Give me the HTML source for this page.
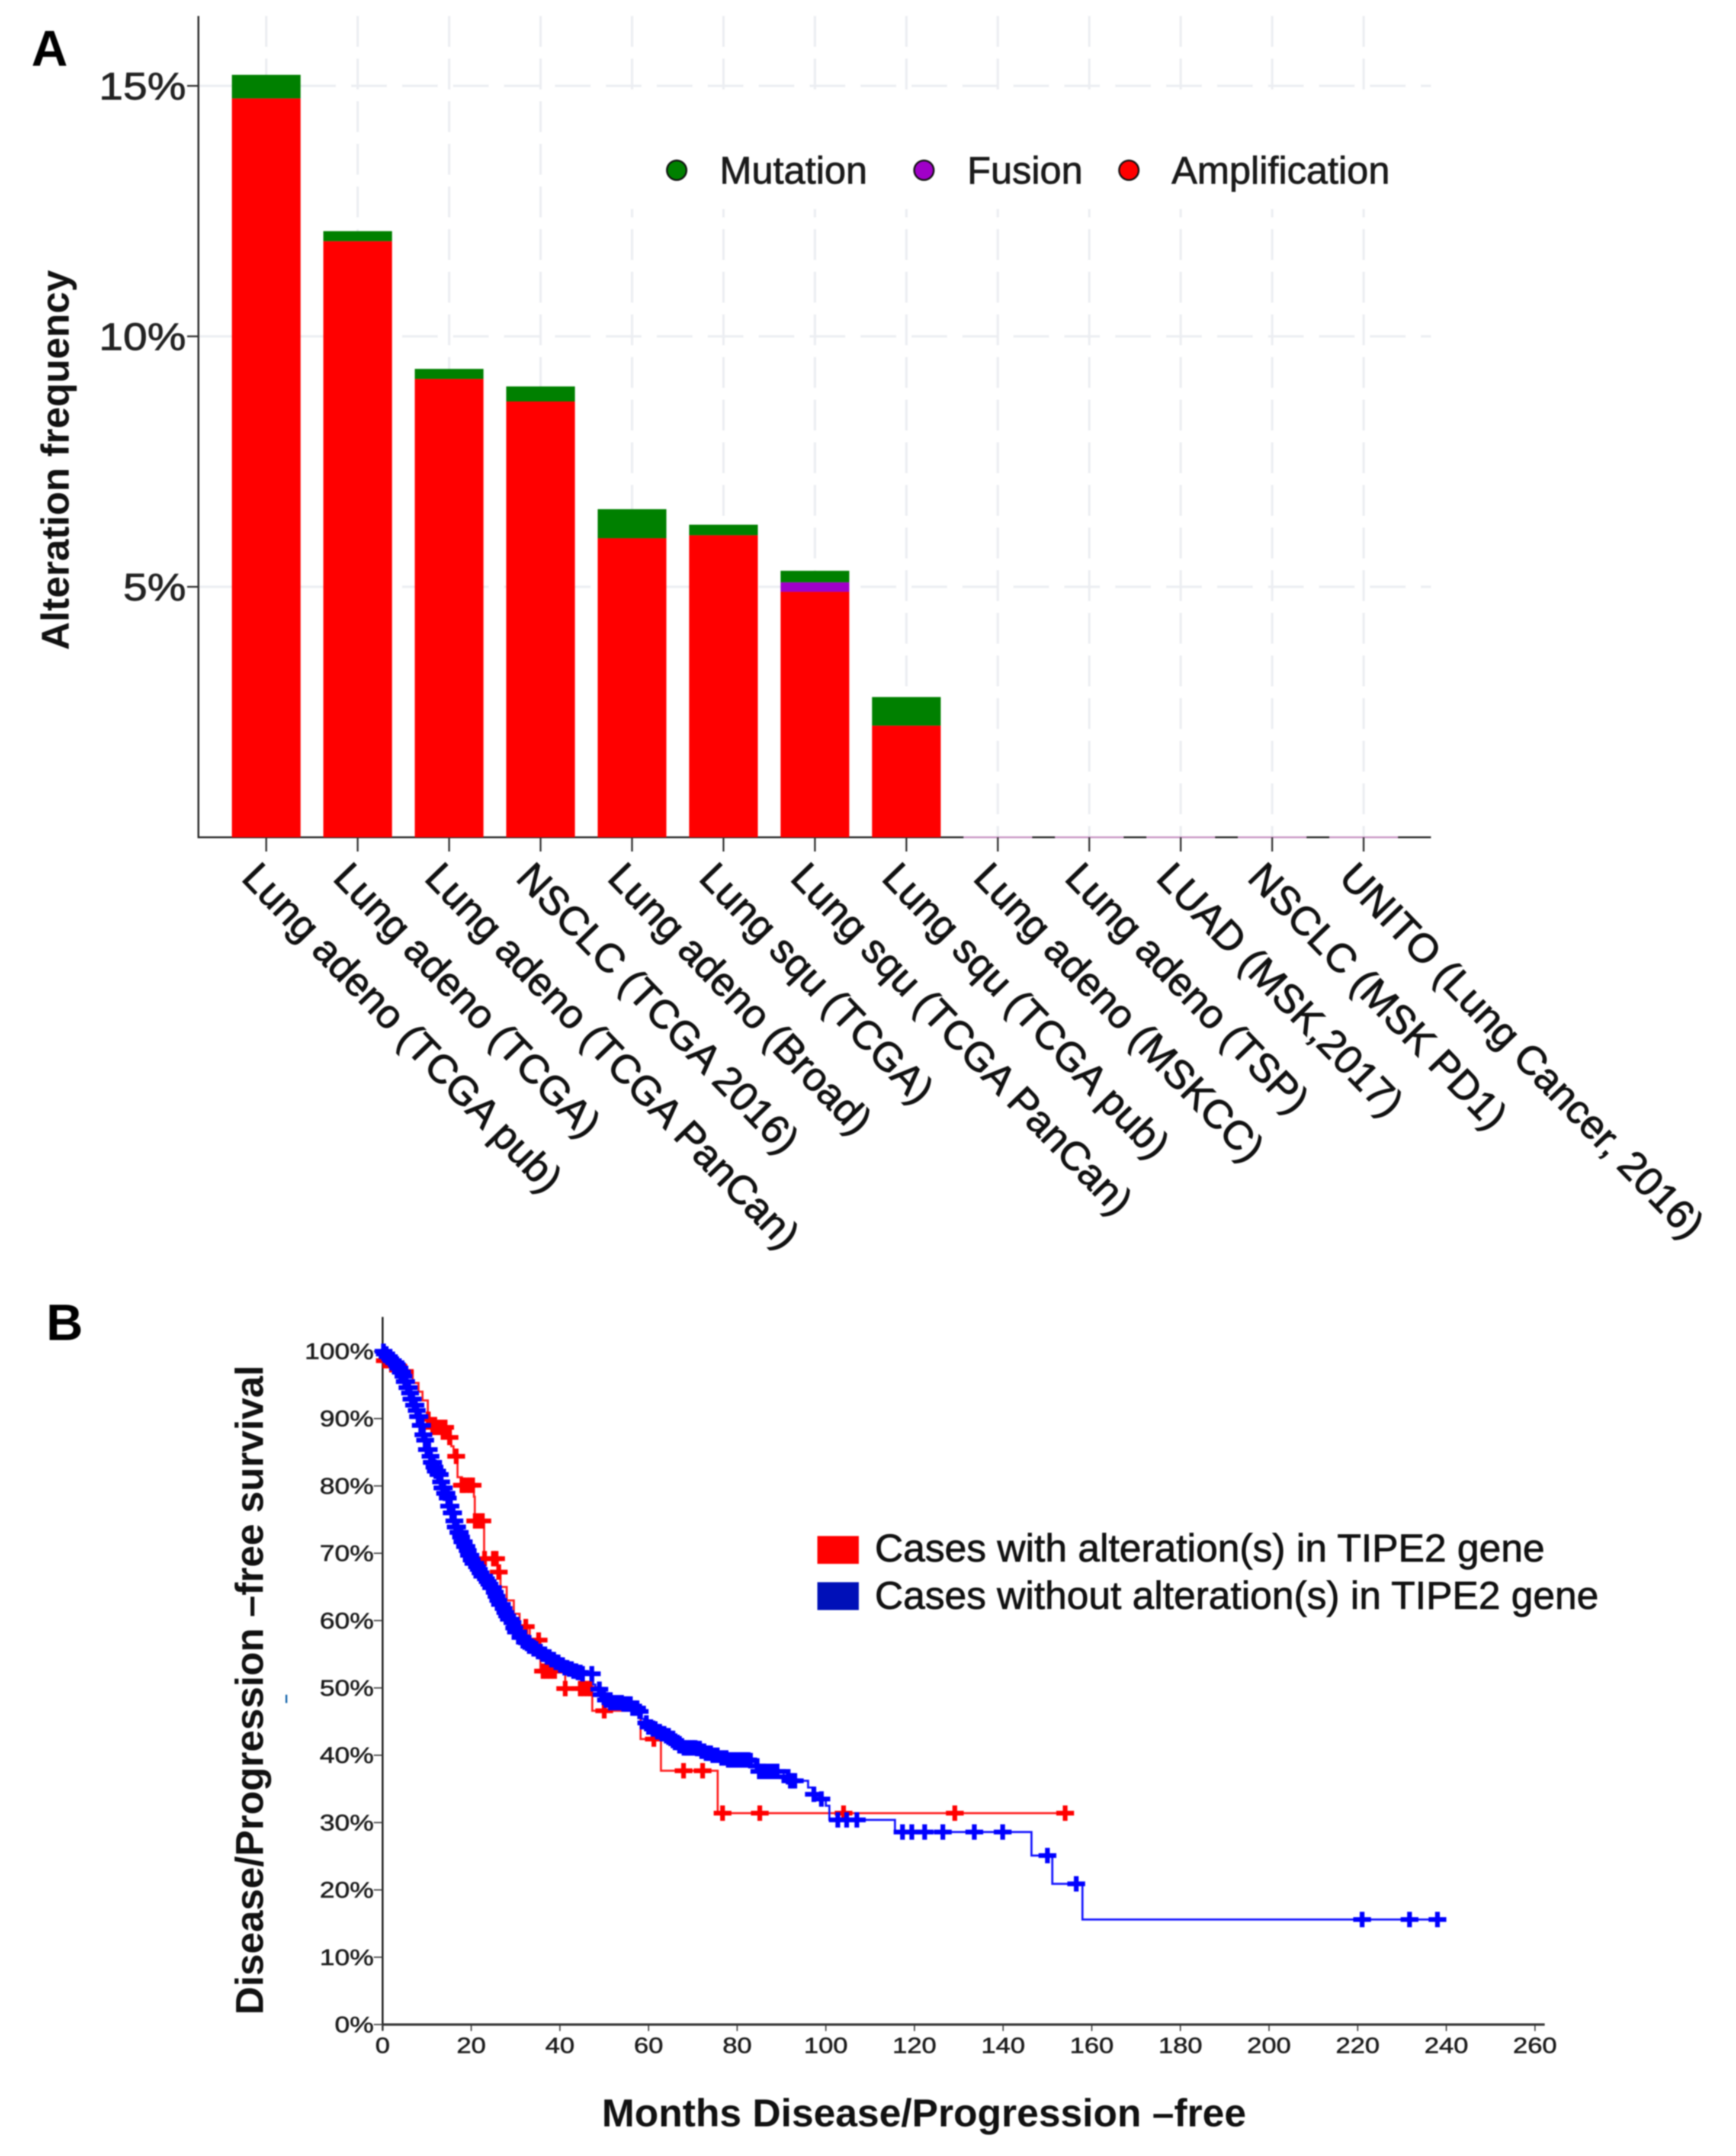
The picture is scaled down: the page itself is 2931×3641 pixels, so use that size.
<!DOCTYPE html>
<html lang="en">
<head>
<meta charset="utf-8">
<title>TIPE2 alteration frequency and survival</title>
<style>
html,body{margin:0;padding:0;background:#fff;}
svg{display:block;filter:blur(1px);}
text{font-family:"Liberation Sans",Arial,sans-serif;}
.thick{stroke:#111;stroke-width:1px;}
</style>
</head>
<body>
<svg id="fig" xmlns="http://www.w3.org/2000/svg" width="2931" height="3641" viewBox="0 0 2931 3641">
  <rect width="2931" height="3641" fill="#ffffff"/>
  <text x="53" y="111" font-size="85" font-weight="700" fill="#000">A</text>
  <text x="78" y="2263" font-size="86" font-weight="700" fill="#000">B</text>
  <g id="panelA"></g>
  <text transform="translate(116,777) rotate(-90)" text-anchor="middle" font-size="66" font-weight="700" fill="#111">Alteration frequency</text>
  <g id="panelB"></g>
  <text transform="translate(444,2854) rotate(-90)" text-anchor="middle" font-size="66" font-weight="700" fill="#111">Disease/Progression –free survival</text>
  <text x="1016" y="3591" font-size="66" font-weight="700" fill="#111" textLength="1088" lengthAdjust="spacingAndGlyphs">Months Disease/Progression –free</text>
  <rect x="482" y="2862" width="3" height="14" fill="#0b5fa8"/>
  <rect x="1380" y="2594" width="70" height="47" fill="#ff0000"/>
  <text class="thick" x="1477" y="2637" font-size="66" fill="#111" textLength="1131" lengthAdjust="spacingAndGlyphs">Cases with alteration(s) in TIPE2 gene</text>
  <rect x="1380" y="2672" width="70" height="47" fill="#0010b8"/>
  <text class="thick" x="1477" y="2717" font-size="66" fill="#111" textLength="1222" lengthAdjust="spacingAndGlyphs">Cases without alteration(s) in TIPE2 gene</text>
</svg>
<script>
// ---------- Panel A data ----------
const studies = ["Lung adeno (TCGA pub)","Lung adeno (TCGA)","Lung adeno (TCGA PanCan)","NSCLC (TCGA 2016)","Lung adeno (Broad)","Lung squ (TCGA)","Lung squ (TCGA PanCan)","Lung squ (TCGA pub)","Lung adeno (MSKCC)","Lung adeno (TSP)","LUAD (MSK,2017)","NSCLC (MSK PD1)","UNITO (Lung Cancer, 2016)"];
const amplification = [14.75,11.9,9.15,8.7,5.97,6.03,4.9,2.23,0,0,0,0,0];
const fusion = [0,0,0,0,0,0,0.19,0,0,0,0,0,0];
const mutation = [0.47,0.2,0.2,0.3,0.58,0.21,0.23,0.57,0,0,0,0,0];
const freqTicks = [5,10,15];
const freqTickLabels = ["5%","10%","15%"];
const legendNames = ["Mutation","Fusion","Amplification"];

// ---------- Panel B data ----------
const survTicks = [0,10,20,30,40,50,60,70,80,90,100];
const monthTicks = [0,20,40,60,80,100,120,140,160,180,200,220,240,260];
const blueMonths = [0,.5,1,1.5,2,2.5,3,3.5,4,4.5,5,5.5,6,6.5,7,7.5,8,8.5,9,9.5,10,10.5,11,11.5,12,12.5,13,13.5,14,14.5,15,15.5,16,16.5,17,17.5,18,18.5,19,19.5,20,20.5,21,21.5,22,22.5,23,23.5,24,24.5,25,25.5,26,26.5,27,27.5,28,28.5,29,29.5,30,31,32,33,34,35,36,37,38,39,40,41,42,43,44,45,47.4,47.5,48,49,50,51,54,56,58,58.5,59,60,61,62,63,64,65,66,67,68,71,72,73,74.5,76,78,83,84,85,89.5,90.5,92,96,97,97.5,100,100.8,115.6,146.4,151.1,157.9,238];
const blueSurv = [100,99.6,99.2,98.9,98.6,98.3,98,97.5,96.9,96.3,95.5,94.6,93.8,92.9,92,91.2,90.3,89,87.6,86.8,85.4,84.4,83.5,82.8,82.2,81.7,80.6,79.7,78.9,78.2,77,76,74.8,73.9,73.1,72.4,71.7,71,70.4,69.7,69,68.5,68,67.6,67.1,66.6,66.2,65.8,65.4,64.9,64.2,63.6,63,62.4,61.8,61.2,60.7,60.2,59.7,58.9,58.3,57.5,56.8,56.2,55.8,55.4,55,54.6,54.2,53.8,53.4,53,52.8,52.5,52.3,52.1,51.8,50.5,49.8,49,48.2,47.8,47.6,47,46.5,45.4,44.8,44.2,43.9,43.5,43.2,42.9,42.5,41.9,41.4,41.1,41,40.6,40.3,40,39.6,39.3,39.2,38.4,37.6,37.5,36.8,36.2,35.2,34.2,33.5,32.5,30.4,28.6,25.1,20.9,15.6,15.6];
const blueCensored = [.2,.5,.8,1.1,1.4,1.7,2,2.3,2.6,2.9,3.2,3.5,3.8,4.1,4.4,4.7,5,5.3,5.6,5.9,6.2,6.5,6.8,7.1,7.4,7.7,8,8.3,8.6,8.9,9.2,9.6,10,10.4,10.8,11.1,11.4,11.7,12,12.3,12.6,12.9,13.2,13.5,13.8,14.1,14.4,14.7,15,15.3,15.6,15.9,16.2,16.5,16.8,17.1,17.4,17.7,18,18.3,18.6,18.9,19.2,19.5,19.8,20.1,20.5,20.9,21.3,21.7,22.1,22.5,22.9,23.3,23.7,24.1,24.5,24.9,25.3,25.7,26.1,26.5,26.9,27.3,27.7,28.1,28.5,28.9,29.3,29.7,30.1,30.6,31.1,31.6,32.1,32.6,33.1,33.6,34.1,34.6,35.1,35.6,36.1,36.6,37.1,37.6,38.1,38.6,39.1,39.6,40.1,40.6,41.1,41.6,42.1,42.6,43.1,43.6,44.1,44.6,45.1,47.2,48.9,49.4,49.9,50.4,50.9,51.4,51.9,52.4,52.9,53.4,53.9,54.4,54.9,55.4,55.9,56.4,56.9,57.4,58,59.5,60,60.5,61,61.5,62,62.5,63,63.5,64,64.5,65,65.5,66,66.5,67,67.5,68,68.5,69,69.5,70,70.5,71,71.5,72,72.5,73,73.5,74,74.5,75.5,76.5,77.5,78,78.5,79,79.5,80,80.5,81,81.5,82,82.5,83,84.5,85,85.5,86,87,88,88.5,89,91.5,92,92.5,93,97.3,99,102.7,104.7,107,117.3,119.4,122.3,126.4,133.5,139.9,150,156.5,221,231.7,238];
const redMonths = [0,1.5,5,6.8,8.1,9,10.2,11,15,15.5,16,16.9,17.9,20.6,20.8,22.9,26,26.6,28,29.6,30.9,33.2,35.6,41.2,47.3,58.2,62.8,75.6,154];
const redSurv = [98.6,98,97,95.3,94,92.7,89.9,88.7,87.2,85.9,84.4,81.3,80.1,78.4,74.8,69.2,67.2,65,63,61,59.1,57.1,52.5,49.9,46.6,42.4,37.7,31.4,31.4];
const redCensored = [.5,1.2,2,5,10.3,11.3,11.8,12.3,13.1,13.6,14.1,15.1,16.6,17.9,18.2,19,19.7,20.3,20.9,21,21.8,22.5,23,25,25.6,26.2,32.3,35.2,36.2,37,37.9,38.8,41.2,44.6,45.4,46.2,46.9,50,61.2,67.9,72.2,76.7,85.1,104,129.1,154];

// ---------- helpers ----------
const NS = "http://www.w3.org/2000/svg";
function make(parent, tag, attrs, txt) {
  const el = document.createElementNS(NS, tag);
  for (const k in attrs) el.setAttribute(k, attrs[k]);
  if (txt !== undefined) el.textContent = txt;
  parent.appendChild(el);
  return el;
}
const A = document.getElementById("panelA");
const B = document.getElementById("panelB");

// ---------- Panel A scales ----------
const aLeft = 335, aRight = 2416, aTop = 27, aBase = 1414;
function freqY(v) { return aBase - v * 84.6; }
function bandX(i) { return 449.5 + i * 154.4; }
const barW = 116;

// grid
freqTicks.forEach(function (t) {
  const el = make(A, "line", {x1: aLeft, x2: aRight, y1: freqY(t), y2: freqY(t), stroke: "#eceef2", "stroke-width": 4, "stroke-dasharray": "60 26"});
  
  
});
studies.forEach(function (s, i) {
  const el = make(A, "line", {x1: bandX(i), x2: bandX(i), y1: aTop, y2: aBase, stroke: "#eceef2", "stroke-width": 4, "stroke-dasharray": "52 20"});
  
  
});
const legBg = make(A, "rect", {x: 1040, y: 155, width: 1376, height: 198, fill: "#fff"});



// axes
const aAxisY = make(A, "line", {x1: aLeft, x2: aLeft, y1: aTop, y2: aBase + 1.5, stroke: "#222", "stroke-width": 3});


const aAxisX = make(A, "line", {x1: aLeft, x2: aRight, y1: aBase, y2: aBase, stroke: "#222", "stroke-width": 3});



// bars
studies.forEach(function (s, i) {
  const x = bandX(i) - barW / 2;
  const total = amplification[i] + fusion[i] + mutation[i];
  if (total === 0) {
    const z = make(A, "rect", {x: x, y: aBase - 1.5, width: barW, height: 3, fill: "#c896c4"});
    
    
    return;
  }
  const r = make(A, "rect", {x: x, y: freqY(amplification[i]), width: barW, height: aBase - freqY(amplification[i]), fill: "#ff0000"});
  
  
  if (fusion[i] > 0) {
    const p = make(A, "rect", {x: x, y: freqY(amplification[i] + fusion[i]), width: barW, height: fusion[i] * 84.6, fill: "#a000c8"});
    
    
  }
  const g = make(A, "rect", {x: x, y: freqY(total), width: barW, height: mutation[i] * 84.6, fill: "#008000"});
  
  
});

// y ticks
freqTicks.forEach(function (t, i) {
  const tk = make(A, "line", {x1: 316, x2: aLeft, y1: freqY(t), y2: freqY(t), stroke: "#333", "stroke-width": 3});
  
  
  const lb = make(A, "text", {transform: "translate(314," + (freqY(t) + 23) + ") scale(1.13,1)", "text-anchor": "end", "font-size": 65, fill: "#222", stroke: "#222", "stroke-width": 1}, freqTickLabels[i]);
  
  
});

// x ticks and labels
studies.forEach(function (s, i) {
  const tk = make(A, "line", {x1: bandX(i), x2: bandX(i), y1: aBase, y2: aBase + 24, stroke: "#333", "stroke-width": 3});
  
  
  const lb = make(A, "text", {transform: "translate(" + (bandX(i) - 44) + ",1485) rotate(46)", "font-size": 68, fill: "#111", stroke: "#111", "stroke-width": 1.2}, s);
  
  
});

// legend
const dotX = [1142.5, 1560, 1906];
const dotFill = ["#008000", "#a000c8", "#ff0000"];
const legTextX = [1215, 1633, 1978];
legendNames.forEach(function (n, i) {
  const d = make(A, "circle", {cx: dotX[i], cy: 287.5, r: 16.5, fill: dotFill[i], stroke: "#111", "stroke-width": 3});
  
  
  const t = make(A, "text", {x: legTextX[i], y: 310, "font-size": 65, fill: "#1a1a1a", stroke: "#1a1a1a", "stroke-width": 1}, n);
  
  
});

// ---------- Panel B scales ----------
function monthX(m) { return 646 + m * 7.483; }
function survY(s) { return 3419 - s * 11.37; }
function survAt(months, surv, m) {
  let v = surv[0];
  for (let i = 0; i < months.length; i++) { if (months[i] <= m) v = surv[i]; }
  return v;
}
function stepPath(months, surv) {
  let d = "M" + monthX(months[0]) + " " + survY(surv[0]);
  for (let i = 1; i < months.length; i++) {
    d += "H" + monthX(months[i]) + "V" + survY(surv[i]);
  }
  return d;
}

// axes
const bAxisY = make(B, "line", {x1: 646, x2: 646, y1: 2224, y2: 3429, stroke: "#111", "stroke-width": 3});


const bAxisX = make(B, "line", {x1: 646, x2: 2608, y1: 3419, y2: 3419, stroke: "#333", "stroke-width": 4});



survTicks.forEach(function (t) {
  const tk = make(B, "line", {x1: 631, x2: 646, y1: survY(t), y2: survY(t), stroke: "#333", "stroke-width": 2});
  
  
  const lb = make(B, "text", {transform: "translate(631," + (survY(t) + 13) + ") scale(1.2,1)", "text-anchor": "end", "font-size": 38, fill: "#1c1c1c", stroke: "#1c1c1c", "stroke-width": 0.7}, t + "%");
  
  
});
monthTicks.forEach(function (t) {
  const tk = make(B, "line", {x1: monthX(t), x2: monthX(t), y1: 3419, y2: 3430, stroke: "#333", "stroke-width": 2});
  
  
  const lb = make(B, "text", {transform: "translate(" + monthX(t) + ",3467) scale(1.2,1)", "text-anchor": "middle", "font-size": 37, fill: "#1c1c1c", stroke: "#1c1c1c", "stroke-width": 0.7}, String(t));
  
  
});

function censorMark(parent, m, s, color) {
  const x = monthX(m), y = survY(s);
  return make(parent, "path", {d: "M" + (x - 15) + " " + y + "H" + (x + 15) + "M" + x + " " + (y - 13) + "V" + (y + 13) + "M" + (x - 6) + " " + y + "H" + (x + 6), stroke: color, "stroke-width": 8, fill: "none"});
}

// red series
const redLine = make(B, "path", {d: stepPath(redMonths, redSurv), fill: "none", stroke: "#ff2020", "stroke-width": 3.5});


redCensored.forEach(function (m) {
  const c = censorMark(B, m, survAt(redMonths, redSurv, m), "#ff0000");
  
  
});

// blue series
const blueLine = make(B, "path", {d: stepPath(blueMonths, blueSurv), fill: "none", stroke: "#1414ff", "stroke-width": 3.5});


blueCensored.forEach(function (m) {
  const c = censorMark(B, m, survAt(blueMonths, blueSurv, m), "#0000ff");
  
  
});
</script>
</body>
</html>
